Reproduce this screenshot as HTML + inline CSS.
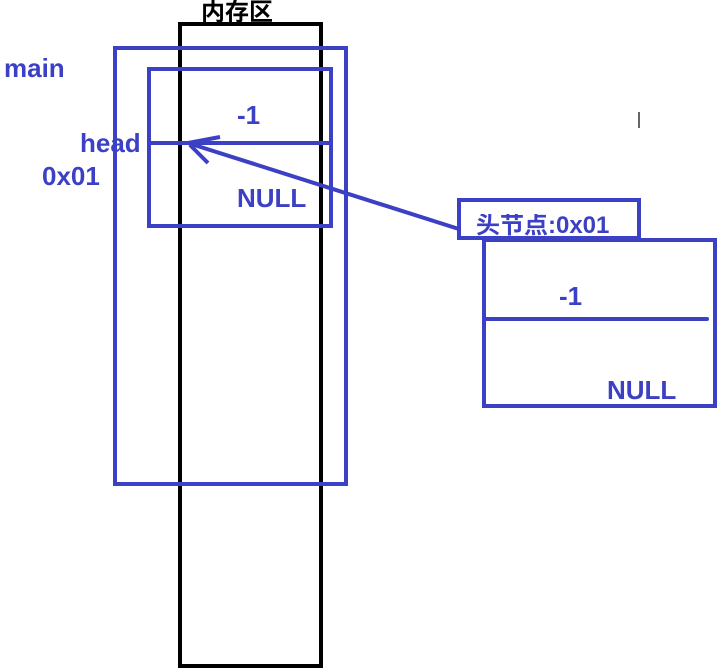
<!DOCTYPE html>
<html><head><meta charset="utf-8"><style>
body{margin:0;background:#fff;width:722px;height:671px;overflow:hidden;position:relative}
.t{position:absolute;font-family:"Liberation Sans","Noto Sans CJK SC",sans-serif;font-weight:bold;color:#3c40c4;font-size:26px;line-height:1;white-space:nowrap}
</style></head><body>
<svg width="722" height="671" style="position:absolute;left:0;top:0">
<rect x="180" y="24" width="141" height="642" fill="none" stroke="#000" stroke-width="4"/>
<g fill="none" stroke="#3c40c4" stroke-width="4">
<rect x="115" y="48" width="231" height="436"/>
<rect x="149" y="69" width="182" height="157"/>
<line x1="150" y1="143" x2="331" y2="143"/>
<line x1="188" y1="143" x2="462" y2="230"/>
<line x1="188" y1="143" x2="220" y2="137"/>
<line x1="190" y1="145" x2="208" y2="163"/>
<rect x="459" y="200" width="180" height="38" fill="#fff"/>
<rect x="484" y="240" width="231" height="166" fill="#fff"/>
<line x1="486" y1="319" x2="707" y2="319" stroke-linecap="round"/>
</g>
<line x1="639" y1="112" x2="639" y2="128" stroke="#333" stroke-width="1.5"/>
</svg>
<div class="t" style="left:201px;top:1px;color:#000;font-size:24px">内存区</div>
<div class="t" style="left:4px;top:55px">main</div>
<div class="t" style="left:80px;top:130px">head</div>
<div class="t" style="left:42px;top:163px">0x01</div>
<div class="t" style="left:237px;top:102px">-1</div>
<div class="t" style="left:237px;top:185px">NULL</div>
<div class="t" style="left:476px;top:214px;font-size:24px;height:22px;overflow:hidden">头节点:0x01</div>
<div class="t" style="left:559px;top:283px">-1</div>
<div class="t" style="left:607px;top:377px">NULL</div>
</body></html>
